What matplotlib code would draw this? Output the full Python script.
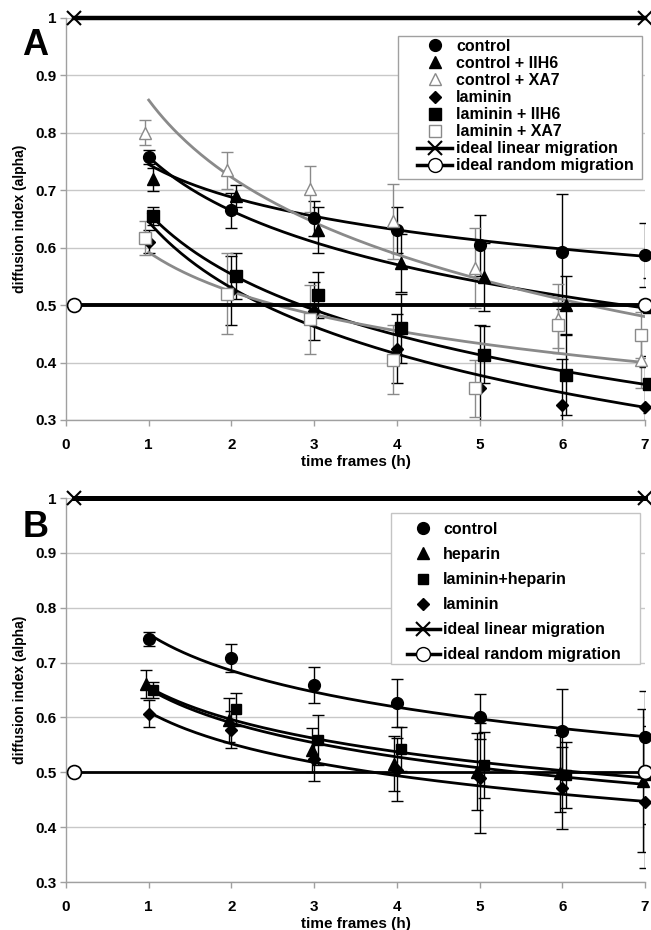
import numpy as np
import matplotlib
matplotlib.use("Agg")
import matplotlib.pyplot as plt
from matplotlib.lines import Line2D
from matplotlib.patches import Rectangle
from matplotlib.ticker import FuncFormatter

plt.rcParams['font.family'] = ['Liberation Sans', 'DejaVu Sans']
plt.rcParams['font.weight'] = 'bold'

# ---------------- data ----------------
time = [1, 2, 3, 4, 5, 6, 7]

# Panel A
a_labels = ["control", "control + IIH6", "control + XA7", "laminin",
            "laminin + IIH6", "laminin + XA7"]
a_control = [0.758, 0.665, 0.651, 0.630, 0.604, 0.593, 0.587]
a_control_err = [0.012, 0.030, 0.030, 0.040, 0.053, 0.100, 0.056]
a_control_iih6 = [0.719, 0.690, 0.630, 0.573, 0.549, 0.500, 0.497]
a_control_iih6_err = [0.020, 0.020, 0.040, 0.050, 0.060, 0.050, 0.050]
a_control_xa7 = [0.800, 0.735, 0.703, 0.646, 0.565, 0.476, 0.405]
a_control_xa7_err = [0.022, 0.032, 0.040, 0.065, 0.070, 0.060, 0.050]
a_laminin = [0.610, 0.525, 0.490, 0.424, 0.356, 0.326, 0.323]
a_laminin_err = [0.020, 0.060, 0.050, 0.060, 0.110, 0.080, 0.070]
a_laminin_iih6 = [0.655, 0.550, 0.518, 0.460, 0.414, 0.378, 0.362]
a_laminin_iih6_err = [0.015, 0.040, 0.040, 0.060, 0.050, 0.070, 0.050]
a_laminin_xa7 = [0.617, 0.520, 0.475, 0.405, 0.355, 0.465, 0.448]
a_laminin_xa7_err = [0.030, 0.070, 0.060, 0.060, 0.050, 0.040, 0.040]
# logarithmic trend lines: value at t=1 and at t=7 (same series order)
a_trend_start = [0.745, 0.758, 0.857, 0.645, 0.660, 0.592]
a_trend_end = [0.585, 0.495, 0.480, 0.322, 0.362, 0.400]

# Panel B
b_labels = ["control", "heparin", "laminin+heparin", "laminin"]
b_control = [0.743, 0.708, 0.659, 0.626, 0.601, 0.575, 0.564]
b_control_err = [0.012, 0.025, 0.033, 0.044, 0.041, 0.076, 0.085]
b_heparin = [0.661, 0.595, 0.540, 0.516, 0.501, 0.498, 0.485]
b_heparin_err = [0.025, 0.040, 0.040, 0.050, 0.070, 0.070, 0.130]
b_laminin_heparin = [0.650, 0.615, 0.559, 0.542, 0.513, 0.495, 0.495]
b_laminin_heparin_err = [0.015, 0.030, 0.045, 0.040, 0.060, 0.060, 0.090]
b_laminin = [0.607, 0.578, 0.524, 0.505, 0.489, 0.471, 0.445]
b_laminin_err = [0.024, 0.033, 0.040, 0.057, 0.100, 0.075, 0.120]
b_trend_start = [0.752, 0.652, 0.655, 0.610]
b_trend_end = [0.565, 0.478, 0.490, 0.447]

ideal_x = [0.1, 7]
ideal_linear = [1.0, 1.0]
ideal_random = [0.5, 0.5]

# ---------------- styling ----------------
GRAY = "#8a8a8a"
SPINE = "#a0a0a0"

a_styles = [
    (dict(marker='o', mfc='black', mec='black', ms=8.5), 'black', 0.0),
    (dict(marker='^', mfc='black', mec='black', ms=8), 'black', 0.05),
    (dict(marker='^', mfc='white', mec=GRAY, ms=8), GRAY, -0.05),
    (dict(marker='D', mfc='black', mec='black', ms=6.5), 'black', 0.0),
    (dict(marker='s', mfc='black', mec='black', ms=8), 'black', 0.05),
    (dict(marker='s', mfc='white', mec=GRAY, ms=8), GRAY, -0.05),
]
b_styles = [
    (dict(marker='o', mfc='black', mec='black', ms=8.5), 'black', 0.0),
    (dict(marker='^', mfc='black', mec='black', ms=8), 'black', -0.03),
    (dict(marker='s', mfc='black', mec='black', ms=7), 'black', 0.05),
    (dict(marker='D', mfc='black', mec='black', ms=6.5), 'black', 0.0),
]
a_values = [a_control, a_control_iih6, a_control_xa7, a_laminin, a_laminin_iih6, a_laminin_xa7]
a_errors = [a_control_err, a_control_iih6_err, a_control_xa7_err, a_laminin_err,
            a_laminin_iih6_err, a_laminin_xa7_err]
b_values = [b_control, b_heparin, b_laminin_heparin, b_laminin]
b_errors = [b_control_err, b_heparin_err, b_laminin_heparin_err, b_laminin_err]


def log_trend(y1, y7):
    xs = np.linspace(time[0], time[-1], 200)
    return xs, y1 + (y7 - y1) * np.log(xs) / np.log(time[-1])


def draw_panel(ax, values, errors, styles, labels, t_start, t_end, linear_lw, random_lw):
    ax.set_xlim(0, 7)
    ax.set_ylim(0.3, 1.0)
    ax.set_yticks(np.arange(0.3, 1.001, 0.1))
    ax.set_xticks(range(0, 8))
    ax.yaxis.set_major_formatter(FuncFormatter(lambda v, p: "%g" % round(v, 1)))
    for s in ['top', 'right']:
        ax.spines[s].set_visible(False)
    for s in ['left', 'bottom']:
        ax.spines[s].set_color(SPINE)
        ax.spines[s].set_linewidth(1.0)
    ax.tick_params(axis='both', colors=SPINE, length=4, width=1, labelcolor='black',
                   labelsize=11)
    ax.tick_params(axis='y', pad=3)
    ax.tick_params(axis='x', pad=9)
    ax.grid(axis='y', color='#c8c8c8', linewidth=1)
    ax.set_axisbelow(True)

    x = np.array(time, dtype=float)
    for y, err, (mk, col, off) in zip(values, errors, styles):
        ax.errorbar(x + off, y, yerr=err, fmt='none', ecolor=col, elinewidth=1,
                    capsize=4, capthick=1, zorder=3)
    for y1, y7, (mk, col, off) in zip(t_start, t_end, styles):
        xs, ys = log_trend(y1, y7)
        ax.plot(xs, ys, color=col, lw=2.0, zorder=4)
    for y, (mk, col, off) in zip(values, styles):
        ax.plot(x + off, y, linestyle='none', zorder=5, clip_on=False, **mk)

    ax.plot(ideal_x, ideal_linear, color='black', lw=linear_lw, marker='x', ms=10,
            mew=1.5, clip_on=False, zorder=6)
    ax.plot(ideal_x, ideal_random, color='black', lw=random_lw, marker='o', ms=10,
            mfc='white', mec='black', mew=1.2, clip_on=False, zorder=6)

    ax.set_xlabel("time frames (h)", fontsize=11, fontweight='bold', labelpad=2)
    ax.set_ylabel("diffusion index (alpha)", fontsize=10, fontweight='bold', labelpad=6)

    handles = []
    for (mk, col, off), lab in zip(styles, labels):
        handles.append(Line2D([], [], linestyle='none', label=lab, **mk))
    handles.append(Line2D([], [], color='black', lw=2.5, marker='x', ms=10, mew=1.5,
                          label="ideal linear migration"))
    handles.append(Line2D([], [], color='black', lw=2.5, marker='o', ms=10,
                          mfc='white', mec='black', label="ideal random migration"))
    return handles


fig = plt.figure(figsize=(6.51, 9.30), dpi=100)

# Panel A
axA = fig.add_axes([0.1014, 0.5484, 0.8894, 0.4323])
hA = draw_panel(axA, a_values, a_errors, a_styles, a_labels, a_trend_start, a_trend_end,
                3.2, 2.8)
axA.add_patch(Rectangle((0.5734, 0.5995), 0.4214, 0.3557, transform=axA.transAxes,
                        facecolor='white', edgecolor=SPINE, lw=1, zorder=7, clip_on=False))
legA = axA.legend(handles=hA, loc='upper left', bbox_to_anchor=(0.6062, 0.9478),
                  fontsize=11.5, frameon=False, labelspacing=0.13, handlelength=2.2,
                  handletextpad=0.25, borderpad=0, borderaxespad=0)
legA.set_zorder(8)

# Panel B
axB = fig.add_axes([0.1014, 0.0516, 0.8894, 0.4129])
hB = draw_panel(axB, b_values, b_errors, b_styles, b_labels, b_trend_start, b_trend_end,
                3.6, 2.0)
axB.add_patch(Rectangle((0.5613, 0.5677), 0.4301, 0.3933, transform=axB.transAxes,
                        facecolor='white', edgecolor='#c4c4c4', lw=1, zorder=7, clip_on=False))
legB = axB.legend(handles=hB, loc='upper left', bbox_to_anchor=(0.589, 0.9375),
                  fontsize=11.5, frameon=False, labelspacing=0.63, handlelength=2.06,
                  handletextpad=0.2, borderpad=0, borderaxespad=0)
legB.set_zorder(8)

fig.text(0.034, 0.951, "A", fontsize=26, fontweight='bold', ha='left', va='center')
fig.text(0.034, 0.433, "B", fontsize=26, fontweight='bold', ha='left', va='center')

fig.savefig("out.png", dpi=100)
